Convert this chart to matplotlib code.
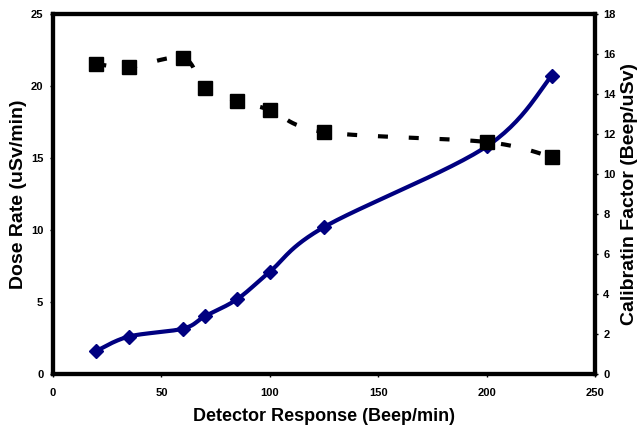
import numpy as np
import matplotlib
matplotlib.use("Agg")
from matplotlib import pyplot as plt

plt.rcParams['font.family'] = ['Liberation Sans', 'DejaVu Sans']
plt.rcParams['font.weight'] = 'bold'

# data
response = [20, 35, 60, 70, 85, 100, 125, 200, 230]
dose_rate = [1.6, 2.6, 3.15, 4.0, 5.2, 7.1, 10.2, 15.8, 20.7]
calib_factor = [15.5, 15.35, 15.8, 14.3, 13.65, 13.2, 12.1, 11.6, 10.85]

x_ticks = [0, 50, 100, 150, 200, 250]
left_ticks = [0, 5, 10, 15, 20, 25]
right_ticks = [0, 2, 4, 6, 8, 10, 12, 14, 16, 18]


# excel-like smoothed line (catmull-rom through the points)
def smooth(x, y, n=30):
    x = np.asarray(x, float)
    y = np.asarray(y, float)
    px = np.concatenate([[x[0]], x, [x[-1]]])
    py = np.concatenate([[y[0]], y, [y[-1]]])
    xs, ys = [], []
    t = np.linspace(0, 1, n)
    for i in range(1, len(px) - 2):
        for p, out in ((px, xs), (py, ys)):
            p0, p1, p2, p3 = p[i - 1], p[i], p[i + 1], p[i + 2]
            m1 = (p2 - p0) / 2.0
            m2 = (p3 - p1) / 2.0
            h00 = 2 * t**3 - 3 * t**2 + 1
            h10 = t**3 - 2 * t**2 + t
            h01 = -2 * t**3 + 3 * t**2
            h11 = t**3 - t**2
            out.extend(h00 * p1 + h10 * m1 + h01 * p2 + h11 * m2)
    return np.array(xs), np.array(ys)


fig = plt.figure(figsize=(6.43, 4.32), dpi=100)
ax = fig.add_axes([0.0824, 0.1343, 0.8429, 0.8333])
ax2 = ax.twinx()

sx, sy = smooth(response, dose_rate)
ax.plot(sx, sy, color='#000080', lw=3, solid_capstyle='round', zorder=3)
ax.plot(response, dose_rate, 'D', color='#000080', ms=7, zorder=4)

cx, cy = smooth(response, calib_factor)
ax2.plot(cx, cy, color='black', lw=3, linestyle=(0, (2.4, 5)), zorder=3)
ax2.plot(response, calib_factor, 's', color='black', ms=10, zorder=4)

ax.set_xlim(0, 250)
ax.set_ylim(0, 25)
ax2.set_ylim(0, 18)
ax.set_xticks(x_ticks)
ax.set_yticks(left_ticks)
ax2.set_yticks(right_ticks)

for a in (ax, ax2):
    for s in a.spines.values():
        s.set_linewidth(3)
    a.tick_params(labelsize=8, width=1, length=2, direction='out')
    for lab in a.get_xticklabels() + a.get_yticklabels():
        lab.set_fontweight('bold')
ax.tick_params(axis='x', pad=8)
ax.tick_params(axis='y', pad=5)
ax2.tick_params(axis='y', pad=4)

ax.set_xlabel('Detector Response (Beep/min)', fontsize=13, fontweight='bold', labelpad=7)
ax.set_ylabel('Dose Rate (uSv/min)', fontsize=14, fontweight='bold', labelpad=3)
ax2.set_ylabel('Calibratin Factor (Beep/uSv)', fontsize=14, fontweight='bold', labelpad=4)

fig.savefig('out.png', dpi=100)
